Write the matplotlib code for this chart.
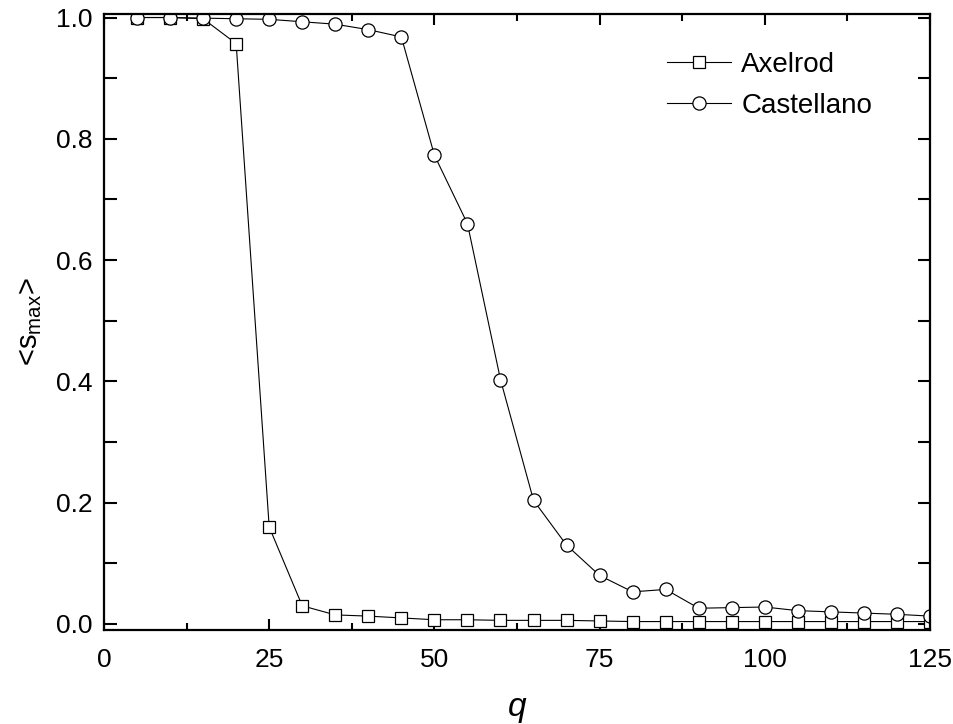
import matplotlib
matplotlib.use('Agg')
import matplotlib.pyplot as plt
from matplotlib.ticker import MultipleLocator

plt.rcParams['font.family'] = ['Liberation Sans', 'DejaVu Sans']
plt.rcParams['mathtext.fontset'] = 'custom'
plt.rcParams['mathtext.rm'] = 'Liberation Sans'
plt.rcParams['mathtext.it'] = 'Liberation Sans:italic'

# Data
q = [5, 10, 15, 20, 25, 30, 35, 40, 45, 50, 55, 60, 65, 70, 75, 80, 85, 90,
     95, 100, 105, 110, 115, 120, 125]
axelrod = [1.0, 1.0, 0.998, 0.957, 0.16, 0.03, 0.015, 0.013, 0.01, 0.007,
           0.007, 0.006, 0.006, 0.006, 0.005, 0.004, 0.004, 0.004, 0.004,
           0.004, 0.004, 0.004, 0.004, 0.004, 0.004]
castellano = [1.0, 1.0, 0.999, 0.998, 0.997, 0.993, 0.989, 0.98, 0.968, 0.773,
              0.66, 0.403, 0.204, 0.13, 0.08, 0.053, 0.057, 0.026, 0.027,
              0.028, 0.022, 0.02, 0.018, 0.016, 0.013]

fig = plt.figure(figsize=(9.54, 7.24), dpi=100)
ax = fig.add_axes([104 / 954, 1 - 630 / 724, 826 / 954, 616 / 724])

ax.plot(q, axelrod, color='black', lw=0.8, marker='s', ms=8.5,
        mfc='white', mec='black', mew=0.9, label='Axelrod')
ax.plot(q, castellano, color='black', lw=0.8, marker='o', ms=9.5,
        mfc='white', mec='black', mew=0.9, label='Castellano')

ax.set_xlim(0, 125)
ax.set_ylim(-0.0099, 1.0058)
ax.xaxis.set_major_locator(MultipleLocator(25))
ax.xaxis.set_minor_locator(MultipleLocator(12.5))
ax.yaxis.set_major_locator(MultipleLocator(0.2))
ax.yaxis.set_minor_locator(MultipleLocator(0.1))
ax.tick_params(which='both', direction='in', top=True, right=True,
               labelsize=19, width=1.5)
ax.tick_params(axis='y', which='both', length=9, pad=8)
ax.tick_params(axis='x', which='major', length=8, pad=13)
ax.tick_params(axis='x', which='minor', length=5)
for s in ax.spines.values():
    s.set_linewidth(1.6)

ax.set_xlabel('$q$', fontsize=24, labelpad=16)
ax.set_ylabel(r'<s$_{\mathrm{max}}$>', fontsize=21, labelpad=9)

ax.legend(loc='upper right', bbox_to_anchor=(0.93, 0.938), frameon=False,
          fontsize=20, handlelength=2.3, handletextpad=0.36, labelspacing=0.52,
          borderpad=0, borderaxespad=0, markerscale=1.0)

fig.savefig('out.png', dpi=100)
